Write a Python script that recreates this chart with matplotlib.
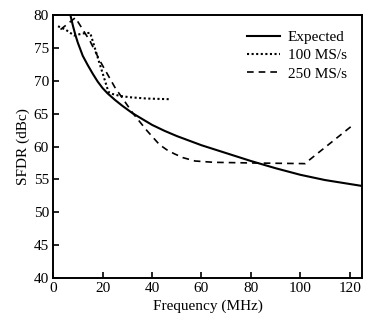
import numpy as np
import matplotlib
matplotlib.use("Agg")
import matplotlib.pyplot as plt

plt.rcParams['font.family'] = ['Liberation Serif', 'DejaVu Serif']

# Values
freq_expected = [7, 8, 9, 10, 12, 14, 16, 18, 20, 22, 25, 28, 32, 36, 40, 45, 50,
                 55, 60, 70, 80, 90, 100, 110, 120, 125]
sfdr_expected = [80.0, 78.4, 77.0, 75.8, 73.8, 72.4, 71.1, 69.9, 68.9, 68.1, 67.1,
                 66.2, 65.1, 64.2, 63.3, 62.4, 61.6, 60.9, 60.2, 59.0, 57.8, 56.7,
                 55.7, 54.9, 54.3, 54.0]

freq_100 = [2.0, 5.0, 8.5, 12.0, 15.0, 18.5, 22.4, 24.0, 27.0, 31.0, 38.0, 47.3]
sfdr_100 = [78.3, 77.8, 76.9, 77.2, 77.3, 73.0, 68.3, 68.0, 67.7, 67.5, 67.3, 67.2]

freq_250 = [3.0, 9.0, 15.0, 19.0, 25.0, 32.4, 38.0, 43.0, 46.0, 49.0, 52.6, 57.4,
            65.0, 80.0, 102.0, 103.8, 120.7]
sfdr_250 = [77.8, 79.6, 76.0, 73.0, 69.0, 65.0, 62.4, 60.3, 59.5, 58.9, 58.3, 57.8,
            57.6, 57.5, 57.4, 58.0, 63.1]

fig = plt.figure(figsize=(3.82, 3.21), dpi=100)
ax = fig.add_axes([0.139, 0.134, 0.809, 0.819])

ax.plot(freq_expected, sfdr_expected, color='black', linewidth=1.5, label='Expected')
ax.plot(freq_100, sfdr_100, color='black', linewidth=1.5, linestyle=(0, (1, 1.2)), label='100 MS/s')
ax.plot(freq_250, sfdr_250, color='black', linewidth=1.2, linestyle=(0, (4, 3)), label='250 MS/s')

ax.set_xlim(0, 125)
ax.set_ylim(40, 80)
ax.set_xticks(np.arange(0, 121, 20))
ax.set_yticks(np.arange(40, 81, 5))
ax.tick_params(direction='in', length=4, width=1.2, labelsize=11, pad=3)
for s in ax.spines.values():
    s.set_linewidth(1.4)

ax.set_xlabel('Frequency (MHz)', fontsize=11, labelpad=3)
ax.set_ylabel('SFDR (dBc)', fontsize=11, labelpad=3)

ax.legend(loc='upper right', frameon=False, fontsize=11, handlelength=2.2,
          handletextpad=0.5, labelspacing=0.3, borderaxespad=0.6)

fig.savefig('out.png', dpi=100)
